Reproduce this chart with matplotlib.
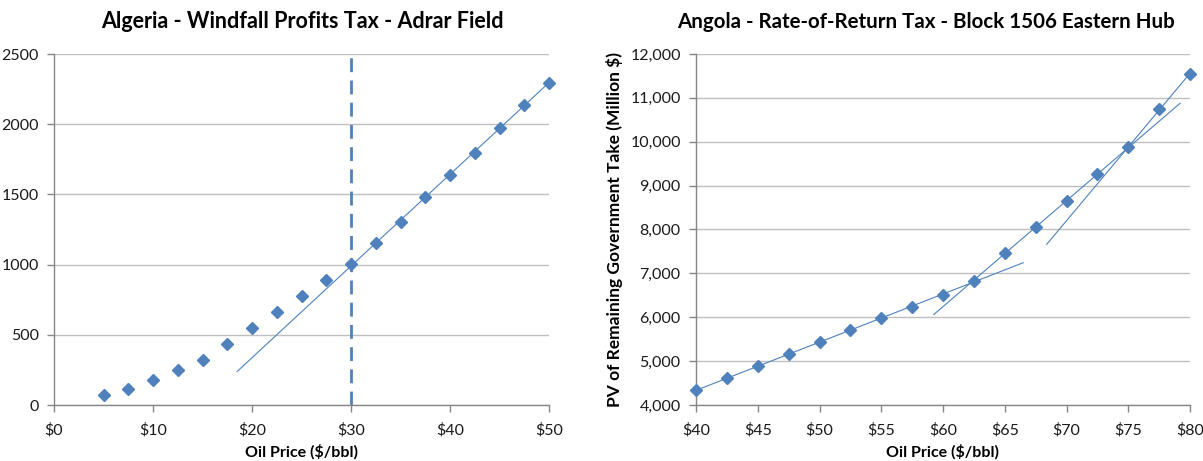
import numpy as np
import matplotlib
matplotlib.use("Agg")
import matplotlib.pyplot as plt
from matplotlib.ticker import FuncFormatter, MultipleLocator

plt.rcParams['font.family'] = ['Lato', 'DejaVu Sans']

# ---- Data ----
alg_price = [5, 7.5, 10, 12.5, 15, 17.5, 20, 22.5, 25, 27.5, 30, 32.5, 35, 37.5, 40, 42.5, 45, 47.5, 50]
alg_take = [74, 112, 176, 247, 318, 432, 546, 660, 774, 891, 1002, 1152, 1304, 1482, 1639, 1796, 1976, 2138, 2297]
alg_threshold = 30

ang_price = [40, 42.5, 45, 47.5, 50, 52.5, 55, 57.5, 60, 62.5, 65, 67.5, 70, 72.5, 75, 77.5, 80]
ang_take = [4342, 4608, 4882, 5163, 5430, 5703, 5977, 6243, 6509, 6837, 7468, 8053, 8646, 9255, 9871, 10738, 11551]

# trend-line segments: (fit range), (drawn range)
alg_trend = ((30, 50), (18.5, 50))
ang_trends = [((40, 62.5), (40, 66.5)),
              ((62.5, 75), (59.25, 79.2)),
              ((75, 80), (68.4, 80))]

BLUE = '#4F81BD'
GRID = '#BFBFBF'
SPINE = '#868686'

fig = plt.figure(figsize=(12.03, 4.61), dpi=100)
W, H = 1203, 461
ax1 = fig.add_axes([54 / W, 1 - 405 / H, (549 - 54) / W, (405 - 54) / H])
ax2 = fig.add_axes([696 / W, 1 - 405 / H, (1190 - 696) / W, (405 - 54) / H])


def fit_line(ax, x, y, fit_rng, draw_rng):
    x = np.asarray(x, float)
    y = np.asarray(y, float)
    m = (x >= fit_rng[0] - 1e-9) & (x <= fit_rng[1] + 1e-9)
    k, b = np.polyfit(x[m], y[m], 1)
    xs = np.array(draw_rng)
    ax.plot(xs, k * xs + b, color=BLUE, lw=0.8, zorder=2)


def style(ax):
    for s in ['top', 'right']:
        ax.spines[s].set_visible(False)
    for s in ['left', 'bottom']:
        ax.spines[s].set_color(SPINE)
        ax.spines[s].set_linewidth(1)
    ax.yaxis.grid(True, color=GRID, lw=1)
    ax.set_axisbelow(True)
    ax.tick_params(axis='both', colors=SPINE, length=5, width=1, labelsize=11.5, labelcolor='#1a1a1a')
    ax.tick_params(axis='x', pad=8)
    ax.tick_params(axis='y', pad=6)


# ---- Left chart ----
style(ax1)
ax1.set_xlim(0, 50)
ax1.set_ylim(0, 2500)
ax1.xaxis.set_major_locator(MultipleLocator(10))
ax1.yaxis.set_major_locator(MultipleLocator(500))
ax1.xaxis.set_major_formatter(FuncFormatter(lambda v, p: f"${v:.0f}"))
fit_line(ax1, alg_price, alg_take, *alg_trend)
ax1.axvline(alg_threshold, color=BLUE, lw=2, ls=(0, (5, 3)), zorder=2)
ax1.plot(alg_price, alg_take, ls='none', marker='D', ms=6.5, color=BLUE, mec=BLUE, zorder=3, clip_on=False)
fig.text(302 / W, 1 - 22 / H, "Algeria - Windfall Profits Tax - Adrar Field",
         fontsize=15.5, fontweight='bold', ha='center', va='center')
ax1.set_xlabel("Oil Price ($/bbl)", fontsize=11.5, fontweight='bold', labelpad=5)

# ---- Right chart ----
style(ax2)
ax2.set_xlim(40, 80)
ax2.set_ylim(4000, 12000)
ax2.xaxis.set_major_locator(MultipleLocator(5))
ax2.yaxis.set_major_locator(MultipleLocator(1000))
ax2.xaxis.set_major_formatter(FuncFormatter(lambda v, p: f"${v:.0f}"))
ax2.yaxis.set_major_formatter(FuncFormatter(lambda v, p: f"{v:,.0f}"))
ax2.plot(ang_price, ang_take, ls='none', marker='D', ms=6.5, color=BLUE, mec=BLUE, zorder=3, clip_on=False)
for fr, dr in ang_trends:
    fit_line(ax2, ang_price, ang_take, fr, dr)
fig.text(926 / W, 1 - 22 / H, "Angola - Rate-of-Return Tax - Block 1506 Eastern Hub",
         fontsize=14.8, fontweight='bold', ha='center', va='center')
ax2.set_xlabel("Oil Price ($/bbl)", fontsize=11.5, fontweight='bold', labelpad=5)
ax2.set_ylabel("PV of Remaining Government Take (Million $)", fontsize=12.5, fontweight='bold', labelpad=5)

fig.savefig("out.png", dpi=100)
